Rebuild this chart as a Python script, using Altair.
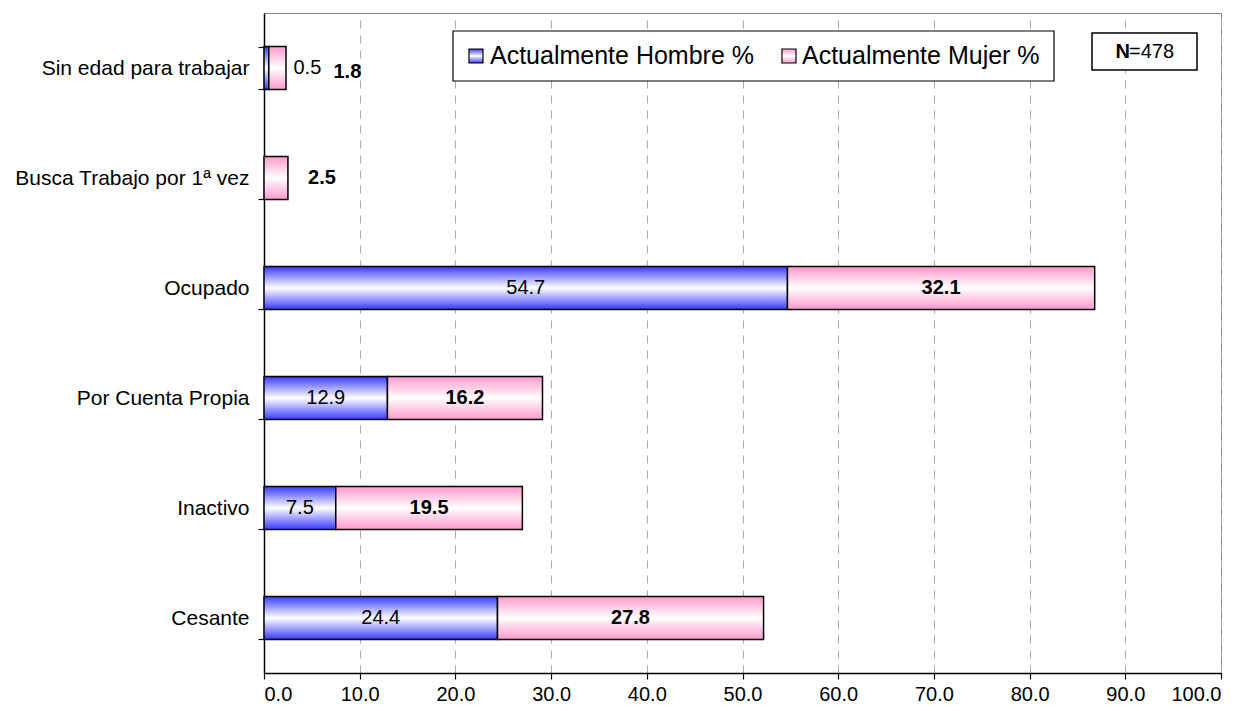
import altair as alt
import pandas as pd

categories = ["Sin edad para trabajar", "Busca Trabajo por 1ª vez", "Ocupado",
              "Por Cuenta Propia", "Inactivo", "Cesante"]
hombre = [0.5, 0.0, 54.7, 12.9, 7.5, 24.4]
mujer = [1.8, 2.5, 32.1, 16.2, 19.5, 27.8]
x_ticks = [0, 10, 20, 30, 40, 50, 60, 70, 80, 90, 100]
series_names = ["Actualmente Hombre %", "Actualmente Mujer %"]
n_text = "478"

df = pd.DataFrame({"cat": categories, "hombre": hombre, "mujer": mujer})
df["m_end"] = df["hombre"] + df["mujer"]
df["h_mid"] = df["hombre"] / 2
df["m_mid"] = df["hombre"] + df["mujer"] / 2
df["h_lab"] = df["hombre"].map(lambda v: f"{v:.1f}")
df["m_lab"] = df["mujer"].map(lambda v: f"{v:.1f}")

FONT = "Liberation Sans"
BLUE = "#3a3aff"
PINK = "#ff99cc"


def grad(c):
    return alt.LinearGradient(
        gradient="linear",
        stops=[alt.GradientStop(color=c, offset=0),
               alt.GradientStop(color="#ffffff", offset=0.5),
               alt.GradientStop(color=c, offset=1)],
        x1=0, x2=0, y1=0, y2=1)


y_enc = alt.Y("cat:N", sort=categories, title=None,
              scale=alt.Scale(paddingInner=0.61, paddingOuter=0.305),
              axis=alt.Axis(tickBand="extent", labelFont=FONT, labelFontSize=21,
                            labelColor="black", labelPadding=9, tickSize=6,
                            tickColor="black", domainColor="black", domainWidth=1.5,
                            tickWidth=1.2, grid=False, labelLimit=400))

x_scale = alt.Scale(domain=[0, 100], nice=False, zero=True)
x_axis = alt.Axis(values=x_ticks, format=".1f", labelFont=FONT, labelFontSize=20,
                  labelColor="black", labelPadding=5, tickSize=6, tickColor="black",
                  domainColor="black", domainWidth=1.5, tickWidth=1.2,
                  grid=True, gridColor="#aaaaaa", gridDash=[8, 7], gridWidth=1)

base = alt.Chart(df)

bars_h = base.transform_filter("datum.hombre > 0").mark_bar(
    fill=grad(BLUE), stroke="black", strokeWidth=1.5
).encode(x=alt.X("zero:Q", scale=x_scale, axis=x_axis, title=None),
         x2="hombre:Q", y=y_enc).transform_calculate(zero="0")

bars_m = base.mark_bar(fill=grad(PINK), stroke="black", strokeWidth=1.5).encode(
    x=alt.X("hombre:Q", scale=x_scale, title=None), x2="m_end:Q", y=y_enc)

big = "datum.hombre >= 5"
txt_h = base.transform_filter(big).mark_text(font=FONT, fontSize=20, color="black").encode(
    x=alt.X("h_mid:Q", title=None), y=y_enc, text="h_lab:N")
txt_m = base.transform_filter(big).mark_text(font=FONT, fontSize=20, fontWeight="bold",
                                             color="black").encode(
    x=alt.X("m_mid:Q", title=None), y=y_enc, text="m_lab:N")

c0 = f"datum.cat == '{categories[0]}'"
c1 = f"datum.cat == '{categories[1]}'"
txt_h0 = base.transform_filter(c0).mark_text(font=FONT, fontSize=20, color="black", dx=41).encode(
    x=alt.X("h_mid:Q", title=None), y=y_enc, text="h_lab:N")
txt_m0 = base.transform_filter(c0).mark_text(font=FONT, fontSize=20, fontWeight="bold",
                                             color="black", dx=70, dy=4).encode(
    x=alt.X("m_mid:Q", title=None), y=y_enc, text="m_lab:N")
txt_m1 = base.transform_filter(c1).mark_text(font=FONT, fontSize=20, fontWeight="bold",
                                             color="black", dx=46).encode(
    x=alt.X("m_mid:Q", title=None), y=y_enc, text="m_lab:N")

one = alt.Data(values=[{"k": 0}])
leg_box = alt.Chart(one).mark_rect(fill="white", stroke="black", strokeWidth=1.2).encode(
    x=alt.value(189), x2=alt.value(790), y=alt.value(18), y2=alt.value(68))
leg_s1 = alt.Chart(one).mark_rect(fill=grad(BLUE), stroke="black", strokeWidth=1.2).encode(
    x=alt.value(205), x2=alt.value(219), y=alt.value(36), y2=alt.value(50))
leg_s2 = alt.Chart(one).mark_rect(fill=grad(PINK), stroke="black", strokeWidth=1.2).encode(
    x=alt.value(518), x2=alt.value(532), y=alt.value(36), y2=alt.value(50))
leg_t1 = alt.Chart(one).mark_text(text=series_names[0], font=FONT, fontSize=25, align="left",
                                  baseline="middle", color="black").encode(
    x=alt.value(226), y=alt.value(43))
leg_t2 = alt.Chart(one).mark_text(text=series_names[1], font=FONT, fontSize=25, align="left",
                                  baseline="middle", color="black").encode(
    x=alt.value(538), y=alt.value(43))

n_box = alt.Chart(one).mark_rect(fill="white", stroke="black", strokeWidth=1.5).encode(
    x=alt.value(828), x2=alt.value(933), y=alt.value(20), y2=alt.value(57))
n_t1 = alt.Chart(one).mark_text(text="N", font=FONT, fontSize=20, fontWeight="bold", align="right",
                                baseline="middle", color="black").encode(
    x=alt.value(866), y=alt.value(38.5))
n_t2 = alt.Chart(one).mark_text(text="=" + n_text, font=FONT, fontSize=20, align="left",
                                baseline="middle", color="black").encode(
    x=alt.value(865), y=alt.value(38.5))

chart = alt.layer(bars_h, bars_m, txt_h, txt_m, txt_h0, txt_m0, txt_m1,
                  leg_box, leg_s1, leg_s2, leg_t1, leg_t2, n_box, n_t1, n_t2).properties(
    width=957, height=660,
    autosize=alt.AutoSizeParams(type="none"),
    padding={"left": 256, "top": 5, "right": 22, "bottom": 30},
    background="white"
).configure_view(stroke="#888888", strokeWidth=1)

chart.save("out.html", embed_options={"renderer": "svg", "actions": False})
